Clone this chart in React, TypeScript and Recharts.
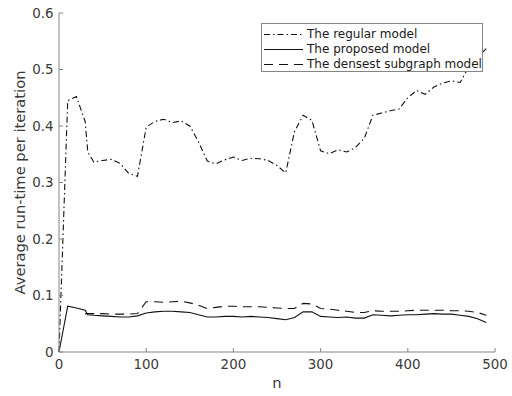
import React from 'react';
import { LineChart, Line, XAxis, YAxis } from 'recharts';

const nValues = [0, 10, 20, 30, 33, 40, 50, 60, 70, 80, 90, 100, 110, 120, 130, 140, 150, 160, 170, 180, 190, 200, 210, 220, 230, 240, 250, 260, 270, 280, 290, 300, 310, 320, 330, 340, 350, 360, 370, 380, 390, 400, 410, 420, 430, 440, 450, 460, 470, 480, 490];

const regularModel = [0, 0.445, 0.452, 0.408, 0.354, 0.336, 0.339, 0.341, 0.334, 0.316, 0.311, 0.398, 0.408, 0.412, 0.406, 0.409, 0.4, 0.372, 0.338, 0.333, 0.34, 0.345, 0.339, 0.343, 0.342, 0.339, 0.33, 0.317, 0.39, 0.419, 0.41, 0.356, 0.351, 0.358, 0.354, 0.362, 0.378, 0.419, 0.423, 0.427, 0.43, 0.45, 0.463, 0.456, 0.469, 0.476, 0.48, 0.477, 0.505, 0.522, 0.537];

const proposedModel = [0, 0.081, 0.078, 0.074, 0.066, 0.065, 0.064, 0.063, 0.062, 0.062, 0.064, 0.069, 0.071, 0.072, 0.072, 0.071, 0.07, 0.066, 0.062, 0.062, 0.063, 0.063, 0.062, 0.063, 0.062, 0.061, 0.059, 0.057, 0.061, 0.071, 0.071, 0.063, 0.062, 0.061, 0.062, 0.06, 0.06, 0.066, 0.065, 0.064, 0.065, 0.066, 0.066, 0.067, 0.068, 0.067, 0.067, 0.065, 0.063, 0.059, 0.052];

const densestModel = [null, null, null, 0.068, 0.068, 0.068, 0.068, 0.067, 0.067, 0.067, 0.068, 0.089, 0.089, 0.088, 0.089, 0.09, 0.087, 0.083, 0.077, 0.079, 0.081, 0.081, 0.08, 0.08, 0.08, 0.079, 0.078, 0.077, 0.077, 0.086, 0.085, 0.077, 0.076, 0.074, 0.072, 0.07, 0.07, 0.073, 0.072, 0.072, 0.072, 0.073, 0.074, 0.074, 0.074, 0.074, 0.073, 0.073, 0.072, 0.07, 0.065];

const xTicks = [0, 100, 200, 300, 400, 500];
const yTicks = [0, 0.1, 0.2, 0.3, 0.4, 0.5, 0.6];

const seriesNames = ['The regular model', 'The proposed model', 'The densest subgraph model'];
const seriesKeys = ['regular', 'proposed', 'densest'];
const seriesDash = ['6 3 1.5 3', '', '9 6'];

const data = nValues.map((n, i) => ({
  n,
  regular: regularModel[i],
  proposed: proposedModel[i],
  densest: densestModel[i],
}));

const FONT = '"DejaVu Sans", sans-serif';
const BOX = '#858585';
const TEXT = '#3a3a3a';
const LINE = '#111111';

const EmptyTick = () => <g />;

const LegendBox = () => (
  <div
    style={{
      position: 'absolute',
      left: 261,
      top: 23,
      boxSizing: 'border-box',
      width: 222,
      height: 49,
      border: `1px solid ${BOX}`,
      background: '#fff',
      padding: '3px 0 0 2px',
      fontFamily: FONT,
      fontSize: 12,
      color: '#1a1a1a',
    }}
  >
    {seriesNames.map((name, i) => (
      <div key={name} style={{ display: 'flex', alignItems: 'center', height: 15, lineHeight: '15px', whiteSpace: 'nowrap' }}>
        <svg width={39} height={15} style={{ display: 'block', flex: 'none' }}>
          <line x1={0} y1={7.5} x2={39} y2={7.5} stroke={LINE} strokeWidth={1.1} strokeDasharray={seriesDash[i] || undefined} />
        </svg>
        <span style={{ marginLeft: 4 }}>{name}</span>
      </div>
    ))}
  </div>
);

export default function App() {
  return (
    <div style={{ position: 'absolute', left: 0, top: 0, width: 512, height: 396, background: '#fff', fontFamily: FONT }}>
      <LineChart width={512} height={396} data={data} margin={{ top: 13, right: 17, bottom: 0, left: 9 }}>
        <XAxis
          dataKey="n"
          type="number"
          domain={[0, 500]}
          ticks={xTicks}
          interval={0}
          height={44}
          tickSize={-4}
          tickMargin={11}
          axisLine={{ stroke: BOX }}
          tickLine={{ stroke: BOX }}
          tick={{ fill: TEXT, fontSize: 13.4, fontFamily: FONT }}
          label={{ value: 'n', position: 'insideBottom', offset: 8, fill: TEXT, fontSize: 14.7, fontFamily: FONT }}
        />
        <XAxis
          xAxisId="top"
          dataKey="n"
          orientation="top"
          type="number"
          domain={[0, 500]}
          ticks={xTicks}
          interval={0}
          height={0}
          tickSize={-4}
          axisLine={{ stroke: BOX }}
          tickLine={{ stroke: BOX }}
          tick={EmptyTick}
        />
        <YAxis
          type="number"
          domain={[0, 0.6]}
          ticks={yTicks}
          interval={0}
          width={50}
          tickSize={-4}
          tickMargin={9.5}
          axisLine={{ stroke: BOX }}
          tickLine={{ stroke: BOX }}
          tickFormatter={(v: number) => String(v)}
          tick={{ fill: TEXT, fontSize: 13.4, fontFamily: FONT }}
          label={{
            value: 'Average run-time per iteration',
            angle: -90,
            position: 'insideLeft',
            offset: 10.5,
            fill: TEXT,
            fontSize: 14.7,
            fontFamily: FONT,
            style: { textAnchor: 'middle' },
          }}
        />
        <YAxis
          yAxisId="right"
          orientation="right"
          type="number"
          domain={[0, 0.6]}
          ticks={yTicks}
          interval={0}
          width={0}
          tickSize={-4}
          axisLine={{ stroke: BOX }}
          tickLine={{ stroke: BOX }}
          tick={EmptyTick}
        />
        {seriesKeys.map((k, i) => (
          <Line
            key={k}
            type="linear"
            dataKey={k}
            name={seriesNames[i]}
            stroke={LINE}
            strokeWidth={1.1}
            strokeDasharray={seriesDash[i] || undefined}
            dot={false}
            activeDot={false}
            isAnimationActive={false}
          />
        ))}
      </LineChart>
      <LegendBox />
    </div>
  );
}
